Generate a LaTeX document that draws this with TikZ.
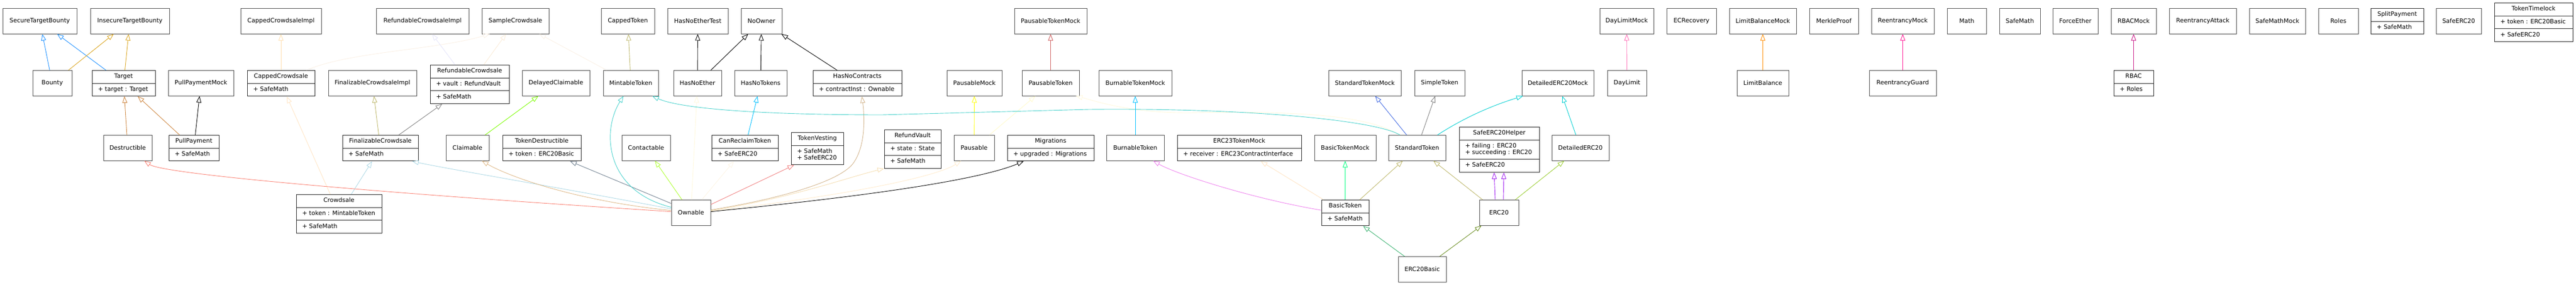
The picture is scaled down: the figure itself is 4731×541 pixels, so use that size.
\PassOptionsToPackage{svgnames}{xcolor}
\documentclass[tikz,border=0pt]{standalone}
\usepackage{fontspec}
\setmainfont{DejaVu Sans}
\usetikzlibrary{arrows.meta,shapes.multipart}
\definecolor{xpurple}{HTML}{A020F0}

\tikzset{
	cls/.style={draw=black!70, line width=1pt, fill=white, font=\fontsize{11}{11.7}\selectfont, minimum height=46.5pt, inner xsep=6pt, anchor=north},
	rec/.style={draw=black!85, line width=1pt, fill=white, font=\fontsize{11}{11.7}\selectfont, rectangle split, rectangle split parts=#1, rectangle split part align={center,left,left}, inner xsep=11pt, inner ysep=5.4pt, anchor=north},
	extends/.style={-{Triangle[open,length=12pt,width=9pt]}, line width=0.9pt},
}

\begin{document}
\begin{tikzpicture}[x=1pt,y=-1pt]
	\def \rowA {15}; %top of first row
	\def \rowB {129}; %top of second row
	\def \rowC {248}; %top of third row
	\def \rowD {367}; %top of fourth row
	\useasboundingbox (0,0) rectangle (4731,541);
	%Row 1%
	%===========================================================
	\node[cls, minimum width=136pt] (SecureTargetBounty) at (73,\rowA) {SecureTargetBounty};
	\node[cls, minimum width=145pt] (InsecureTargetBounty) at (238.5,\rowA) {InsecureTargetBounty};
	\node[cls, minimum width=148pt] (CappedCrowdsaleImpl) at (516,\rowA) {CappedCrowdsaleImpl};
	\node[cls, minimum width=170pt] (RefundableCrowdsaleImpl) at (776,\rowA) {RefundableCrowdsaleImpl};
	\node[cls, minimum width=123pt] (SampleCrowdsale) at (946.5,\rowA) {SampleCrowdsale};
	\node[cls, minimum width=98pt] (CappedToken) at (1153,\rowA) {CappedToken};
	\node[cls, minimum width=111pt] (HasNoEtherTest) at (1281.5,\rowA) {HasNoEtherTest};
	\node[cls, minimum width=75pt] (NoOwner) at (1398.5,\rowA) {NoOwner};
	\node[cls, minimum width=133pt] (PausableTokenMock) at (1929.5,\rowA) {PausableTokenMock};
	\node[cls, minimum width=99pt] (DayLimitMock) at (2987.5,\rowA) {DayLimitMock};
	\node[cls, minimum width=91pt] (ECRecovery) at (3106.5,\rowA) {ECRecovery};
	\node[cls, minimum width=123pt] (LimitBalanceMock) at (3237.5,\rowA) {LimitBalanceMock};
	\node[cls, minimum width=90pt] (MerkleProof) at (3368,\rowA) {MerkleProof};
	\node[cls, minimum width=115pt] (ReentrancyMock) at (3494.5,\rowA) {ReentrancyMock};
	\node[cls, minimum width=72pt] (Math) at (3612,\rowA) {Math};
	\node[cls, minimum width=75pt] (SafeMath) at (3709.5,\rowA) {SafeMath};
	\node[cls, minimum width=83pt] (ForceEther) at (3811.5,\rowA) {ForceEther};
	\node[cls, minimum width=83pt] (RBACMock) at (3918.5,\rowA) {RBACMock};
	\node[cls, minimum width=123pt] (ReentrancyAttack) at (4045.5,\rowA) {ReentrancyAttack};
	\node[cls, minimum width=103pt] (SafeMathMock) at (4182.5,\rowA) {SafeMathMock};
	\node[cls, minimum width=73pt] (Roles) at (4294.5,\rowA) {Roles};
	\node[rec=2, minimum width=97pt] (SplitPayment) at (4402.5,\rowA) {SplitPayment\strut\nodepart{two}+ SafeMath\strut};
	\node[cls, minimum width=83pt] (SafeERC20) at (4515.5,\rowA) {SafeERC20};
	\node[rec=3, minimum width=144pt] (TokenTimelock) at (4653,5) {TokenTimelock\strut\nodepart{two}+ token : ERC20Basic\strut\nodepart{three}+ SafeERC20\strut};
	%Row 2%
	%===========================================================
	\node[cls, minimum width=72pt] (Bounty) at (96,\rowB) {Bounty};
	\node[rec=2, minimum width=116pt] (Target) at (227,\rowB) {Target\strut\nodepart{two}+ target : Target\strut};
	\node[cls, minimum width=120pt] (PullPaymentMock) at (369,\rowB) {PullPaymentMock};
	\node[rec=2, minimum width=124pt] (CappedCrowdsale) at (516,\rowB) {CappedCrowdsale\strut\nodepart{two}+ SafeMath\strut};
	\node[cls, minimum width=162pt] (FinalizableCrowdsaleImpl) at (684,\rowB) {FinalizableCrowdsaleImpl};
	\node[rec=3, minimum width=145pt] (RefundableCrowdsale) at (862.5,119) {RefundableCrowdsale\strut\nodepart{two}+ vault : RefundVault\strut\nodepart{three}+ SafeMath\strut};
	\node[cls, minimum width=124pt] (DelayedClaimable) at (1021,\rowB) {DelayedClaimable};
	\node[cls, minimum width=101pt] (MintableToken) at (1158.5,\rowB) {MintableToken};
	\node[cls, minimum width=88pt] (HasNoEther) at (1281,\rowB) {HasNoEther};
	\node[cls, minimum width=96pt] (HasNoTokens) at (1397,\rowB) {HasNoTokens};
	\node[rec=2, minimum width=163pt] (HasNoContracts) at (1574.5,\rowB) {HasNoContracts\strut\nodepart{two}+ contractInst : Ownable\strut};
	\node[cls, minimum width=101pt] (PausableMock) at (1789.5,\rowB) {PausableMock};
	\node[cls, minimum width=105pt] (PausableToken) at (1929.5,\rowB) {PausableToken};
	\node[cls, minimum width=134pt] (BurnableTokenMock) at (2085,\rowB) {BurnableTokenMock};
	\node[cls, minimum width=133pt] (StandardTokenMock) at (2506.5,\rowB) {StandardTokenMock};
	\node[cls, minimum width=92pt] (SimpleToken) at (2644,\rowB) {SimpleToken};
	\node[cls, minimum width=132pt] (DetailedERC20Mock) at (2861,\rowB) {DetailedERC20Mock};
	\node[cls, minimum width=72pt] (DayLimit) at (2988,\rowB) {DayLimit};
	\node[cls, minimum width=95pt] (LimitBalance) at (3237.5,\rowB) {LimitBalance};
	\node[cls, minimum width=123pt] (ReentrancyGuard) at (3494.5,\rowB) {ReentrancyGuard};
	\node[rec=2, minimum width=73pt] (RBAC) at (3918.5,\rowB) {RBAC\strut\nodepart{two}+ Roles\strut};
	%Row 3%
	%===========================================================
	\node[cls, minimum width=89pt] (Destructible) at (234.5,\rowC) {Destructible};
	\node[rec=2, minimum width=92pt] (PullPayment) at (356,\rowC) {PullPayment\strut\nodepart{two}+ SafeMath\strut};
	\node[rec=2, minimum width=139pt] (FinalizableCrowdsale) at (698.5,\rowC) {FinalizableCrowdsale\strut\nodepart{two}+ SafeMath\strut};
	\node[cls, minimum width=79pt] (Claimable) at (858.5,\rowC) {Claimable};
	\node[rec=2, minimum width=144pt] (TokenDestructible) at (995,\rowC) {TokenDestructible\strut\nodepart{two}+ token : ERC20Basic\strut};
	\node[cls, minimum width=89pt] (Contactable) at (1186.5,\rowC) {Contactable};
	\node[rec=2, minimum width=122pt] (CanReclaimToken) at (1368,\rowC) {CanReclaimToken\strut\nodepart{two}+ SafeERC20\strut};
	\node[rec=2, minimum width=96pt] (TokenVesting) at (1501,243) {TokenVesting\strut\nodepart{two}\begin{tabular}{@{}l@{}}+ SafeMath\\+ SafeERC20\end{tabular}};
	\node[rec=3, minimum width=104pt] (RefundVault) at (1676,238) {RefundVault\strut\nodepart{two}+ state : State\strut\nodepart{three}+ SafeMath\strut};
	\node[cls, minimum width=74pt] (Pausable) at (1789,\rowC) {Pausable};
	\node[rec=2, minimum width=159pt] (Migrations) at (1929.5,\rowC) {Migrations\strut\nodepart{two}+ upgraded : Migrations\strut};
	\node[cls, minimum width=106pt] (BurnableToken) at (2085,\rowC) {BurnableToken};
	\node[rec=2, minimum width=228pt] (ERC23TokenMock) at (2276,\rowC) {ERC23TokenMock\strut\nodepart{two}+ receiver : ERC23ContractInterface\strut};
	\node[cls, minimum width=113pt] (BasicTokenMock) at (2470.5,\rowC) {BasicTokenMock};
	\node[cls, minimum width=105pt] (StandardToken) at (2602.5,\rowC) {StandardToken};
	\node[rec=3, minimum width=147pt] (SafeERC20Helper) at (2753.5,233) {SafeERC20Helper\strut\nodepart{two}\begin{tabular}{@{}l@{}}+ failing : ERC20\\+ succeeding : ERC20\end{tabular}\nodepart{three}+ SafeERC20\strut};
	\node[cls, minimum width=105pt] (DetailedERC20) at (2902.5,\rowC) {DetailedERC20};
	%Row 4 and 5%
	%===========================================================
	\node[rec=3, minimum width=157pt] (Crowdsale) at (622.5,357) {Crowdsale\strut\nodepart{two}+ token : MintableToken\strut\nodepart{three}+ SafeMath\strut};
	\node[cls, minimum width=72pt] (Ownable) at (1269,\rowD) {Ownable};
	\node[rec=2, minimum width=87pt] (BasicToken) at (2470.5,\rowD) {BasicToken\strut\nodepart{two}+ SafeMath\strut};
	\node[cls, minimum width=72pt] (ERC20) at (2753,\rowD) {ERC20};
	\node[cls, minimum width=88pt] (ERC20Basic) at (2612,471) {ERC20Basic};

	%Bounty and Target
	\draw[extends, DodgerBlue] (Bounty) -- (SecureTargetBounty);
	\draw[extends, DodgerBlue] (Target) -- (SecureTargetBounty);
	\draw[extends, Goldenrod] (Bounty) -- (InsecureTargetBounty);
	\draw[extends, Goldenrod] (Target) -- (InsecureTargetBounty);
	\draw[extends, Peru] (Destructible) -- (Target);
	\draw[extends, Peru] (PullPayment) -- (Target);
	\draw[extends] (PullPayment) -- (PullPaymentMock);
	%Crowdsales
	\draw[extends, NavajoWhite] (CappedCrowdsale) -- (CappedCrowdsaleImpl);
	\draw[extends, Bisque] (Crowdsale) -- (CappedCrowdsale);
	\draw[extends, Linen] ([xshift=47pt]CappedCrowdsale.north) .. controls (640,95) and (800,92) .. ([xshift=-47pt]SampleCrowdsale.south);
	\draw[extends, Lavender] (RefundableCrowdsale) -- (RefundableCrowdsaleImpl);
	\draw[extends, AntiqueWhite] (RefundableCrowdsale) -- (SampleCrowdsale);
	\draw[extends, Linen] (MintableToken) -- (SampleCrowdsale);
	\draw[extends, DarkKhaki] (FinalizableCrowdsale) -- (FinalizableCrowdsaleImpl);
	\draw[extends, Gray] (FinalizableCrowdsale) -- (RefundableCrowdsale);
	\draw[extends, LightBlue] (Crowdsale) -- (FinalizableCrowdsale);
	\draw[extends, DarkKhaki] (MintableToken) -- (CappedToken);
	\draw[extends, LawnGreen] (Claimable) -- (DelayedClaimable);
	%Ownable, left side
	\draw[extends, Salmon] ([yshift=2pt]Ownable.west) .. controls (700,355) and (300,320) .. ([xshift=30.5pt]Destructible.south);
	\draw[extends, LightBlue] ([yshift=7pt]Ownable.west) .. controls (1030,345) and (820,310) .. ([xshift=58.5pt]FinalizableCrowdsale.south);
	\draw[extends, BurlyWood] ([yshift=4pt]Ownable.west) .. controls (1050,368) and (930,322) .. ([xshift=26.5pt]Claimable.south);
	\draw[extends, SlateGray] ([yshift=17pt]Ownable.west) -- ([xshift=52pt]TokenDestructible.south);
	\draw[extends, MediumTurquoise] ([yshift=10pt]Ownable.west) .. controls (1110,350) and (1105,240) .. ([xshift=-13.5pt]MintableToken.south);
	\draw[extends, GreenYellow] (Ownable) -- (Contactable);
	\draw[extends, Cornsilk] (Ownable) -- (HasNoEther);
	\draw[extends, OldLace] (Ownable) -- (CanReclaimToken);
	%Ownable, right side
	\draw[extends, LightCoral] ([yshift=15pt]Ownable.east) -- ([xshift=6pt]TokenVesting.south west);
	\draw[extends, Tan] ([yshift=5pt]Ownable.east) .. controls (1450,362) and (1545,330) .. (1567,300) .. controls (1590,268) and (1588,215) .. ([xshift=8.5pt]HasNoContracts.south);
	\draw[extends, Wheat] ([yshift=4pt]Ownable.east) .. controls (1450,365) and (1560,325) .. (RefundVault.south west);
	\draw[extends, BlanchedAlmond] ([yshift=3pt]Ownable.east) .. controls (1550,360) and (1720,325) .. ([xshift=-24pt]Pausable.south);
	\draw[extends] ([yshift=2pt]Ownable.east) .. controls (1600,360) and (1800,330) .. ([xshift=-49.5pt]Migrations.south);
	%NoOwner
	\draw[extends] (HasNoEther) -- (HasNoEtherTest);
	\draw[extends] (HasNoEther) -- (NoOwner);
	\draw[extends] (HasNoTokens) -- (NoOwner);
	\draw[extends] (HasNoContracts) -- (NoOwner);
	\draw[extends, DeepSkyBlue] (CanReclaimToken) -- (HasNoTokens);
	%Pausable
	\draw[extends, Yellow] (Pausable) -- (PausableMock);
	\draw[extends, LemonChiffon] (Pausable) -- (PausableToken);
	\draw[extends, IndianRed] (PausableToken) -- (PausableTokenMock);
	\draw[extends, Cornsilk] ([xshift=-33pt]StandardToken.north) .. controls (2520,215) and (2400,203) .. (2200,207) .. controls (2080,210) and (2010,185) .. ([xshift=46.5pt]PausableToken.south);
	\draw[extends, MediumTurquoise] ([xshift=-31.5pt]StandardToken.north) .. controls (2530,222) and (2300,198) .. (2000,201) -- (1620,211) .. controls (1400,211) and (1250,200) .. ([xshift=39.5pt]MintableToken.south);
	%Tokens
	\draw[extends, DeepSkyBlue] (BurnableToken) -- (BurnableTokenMock);
	\draw[extends, Violet] ([yshift=5pt]BasicToken.west) .. controls (2300,365) and (2160,320) .. ([xshift=33pt]BurnableToken.south);
	\draw[extends, Bisque] (BasicToken) -- (ERC23TokenMock);
	\draw[extends, RoyalBlue] (StandardToken) -- (StandardTokenMock);
	\draw[extends, Gray] (StandardToken) -- (SimpleToken);
	\draw[extends, DarkTurquoise] ([xshift=37.5pt]StandardToken.north) .. controls (2680,222) and (2730,197) .. ([xshift=-64pt]DetailedERC20Mock.south);
	\draw[extends, DarkTurquoise] (DetailedERC20) -- (DetailedERC20Mock);
	\draw[extends, SpringGreen] (BasicToken) -- (BasicTokenMock);
	\draw[extends, DarkKhaki] (BasicToken) -- (StandardToken);
	\draw[extends, DarkKhaki] (ERC20) -- (StandardToken);
	\draw[extends, xpurple] ([xshift=-7pt]ERC20.north) -- ([xshift=-9.5pt]SafeERC20Helper.south);
	\draw[extends, xpurple] ([xshift=8pt]ERC20.north) -- ([xshift=8.5pt]SafeERC20Helper.south);
	\draw[extends, YellowGreen] (ERC20) -- (DetailedERC20);
	\draw[extends, MediumSeaGreen] (ERC20Basic) -- (BasicToken);
	\draw[extends, OliveDrab] (ERC20Basic) -- (ERC20);
	%Others
	\draw[extends, HotPink] (DayLimit) -- (DayLimitMock);
	\draw[extends, DarkOrange] (LimitBalance) -- (LimitBalanceMock);
	\draw[extends, DeepPink] (ReentrancyGuard) -- (ReentrancyMock);
	\draw[extends, MediumVioletRed] (RBAC) -- (RBACMock);
\end{tikzpicture}
\end{document}
